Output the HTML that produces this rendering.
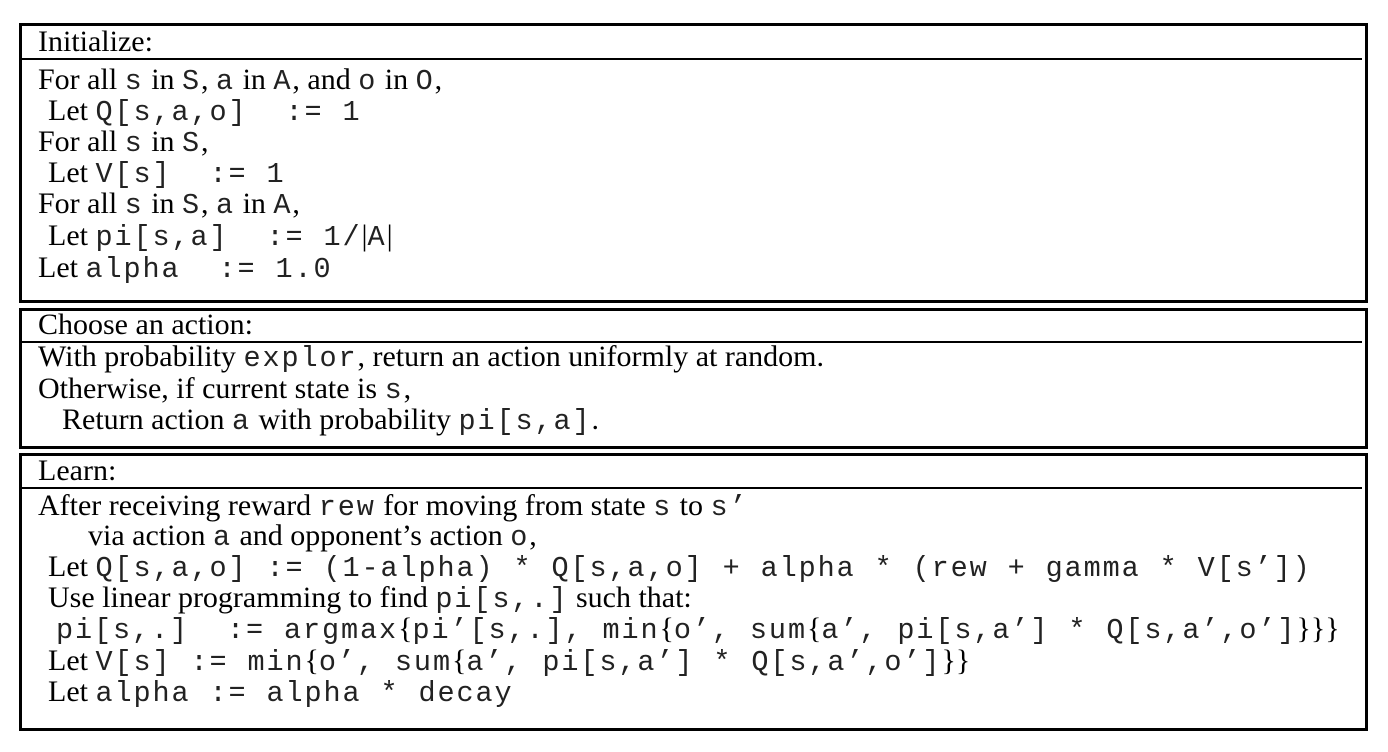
<!DOCTYPE html>
<html><head><meta charset="utf-8"><style>
body{margin:0;background:#fff;width:1388px;height:752px;position:relative;overflow:hidden;font-family:"Liberation Serif",serif;font-size:30px;color:#000}
.box{position:absolute;left:19px;width:1343px;border:3px solid #000}
.hdr{position:absolute;left:19px;width:1343px;border-bottom:2px solid #000}
.l{position:absolute;white-space:pre;line-height:32px;height:32px}
.m{font-family:"Liberation Mono",monospace;font-size:28.5px;letter-spacing:1.9px;color:#222}
</style></head><body>
<div class="box" style="top:23px;height:274px"></div>
<div class="hdr" style="top:58px"></div>
<div class="box" style="top:308px;height:135px"></div>
<div class="hdr" style="top:341px"></div>
<div class="box" style="top:453px;height:272px"></div>
<div class="hdr" style="top:487px"></div>

<div class="l" style="left:38px;top:26px">Initialize:</div>
<div class="l" style="left:38px;top:64px">For all <span class="m">s</span> in <span class="m">S</span>, <span class="m">a</span> in <span class="m">A</span>, and <span class="m">o</span> in <span class="m">O</span>,</div>
<div class="l" style="left:48px;top:95px">Let <span class="m">Q[s,a,o]  := 1</span></div>
<div class="l" style="left:38px;top:126px">For all <span class="m">s</span> in <span class="m">S</span>,</div>
<div class="l" style="left:48px;top:157px">Let <span class="m">V[s]  := 1</span></div>
<div class="l" style="left:38px;top:188px">For all <span class="m">s</span> in <span class="m">S</span>, <span class="m">a</span> in <span class="m">A</span>,</div>
<div class="l" style="left:48px;top:220px">Let <span class="m">pi[s,a]  := 1/</span>|<span class="m">A</span>|</div>
<div class="l" style="left:38px;top:252px">Let <span class="m">alpha  := 1.0</span></div>

<div class="l" style="left:38px;top:309px">Choose an action:</div>
<div class="l" style="left:38px;top:341px">With probability <span class="m">explor</span>, return an action uniformly at random.</div>
<div class="l" style="left:38px;top:373px">Otherwise, if current state is <span class="m">s</span>,</div>
<div class="l" style="left:62px;top:404px">Return action <span class="m">a</span> with probability <span class="m">pi[s,a]</span>.</div>

<div class="l" style="left:38px;top:455px">Learn:</div>
<div class="l" style="left:38px;top:490px">After receiving reward <span class="m">rew</span> for moving from state <span class="m">s</span> to <span class="m">s’</span></div>
<div class="l" style="left:88px;top:520px">via action <span class="m">a</span> and opponent’s action <span class="m">o</span>,</div>
<div class="l" style="left:48px;top:551px">Let <span class="m">Q[s,a,o] := (1-alpha) * Q[s,a,o] + alpha * (rew + gamma * V[s’])</span></div>
<div class="l" style="left:48px;top:582px">Use linear programming to find <span class="m">pi[s,.]</span> such that:</div>
<div class="l" style="left:56px;top:613px"><span class="m">pi[s,.]  := argmax</span>{<span class="m">pi’[s,.], min</span>{<span class="m">o’, sum</span>{<span class="m">a’, pi[s,a’] * Q[s,a’,o’]</span>}}}</div>
<div class="l" style="left:48px;top:645px">Let <span class="m">V[s] := min</span>{<span class="m">o’, sum</span>{<span class="m">a’, pi[s,a’] * Q[s,a’,o’]</span>}}</div>
<div class="l" style="left:48px;top:676px">Let <span class="m">alpha := alpha * decay</span></div>
</body></html>
